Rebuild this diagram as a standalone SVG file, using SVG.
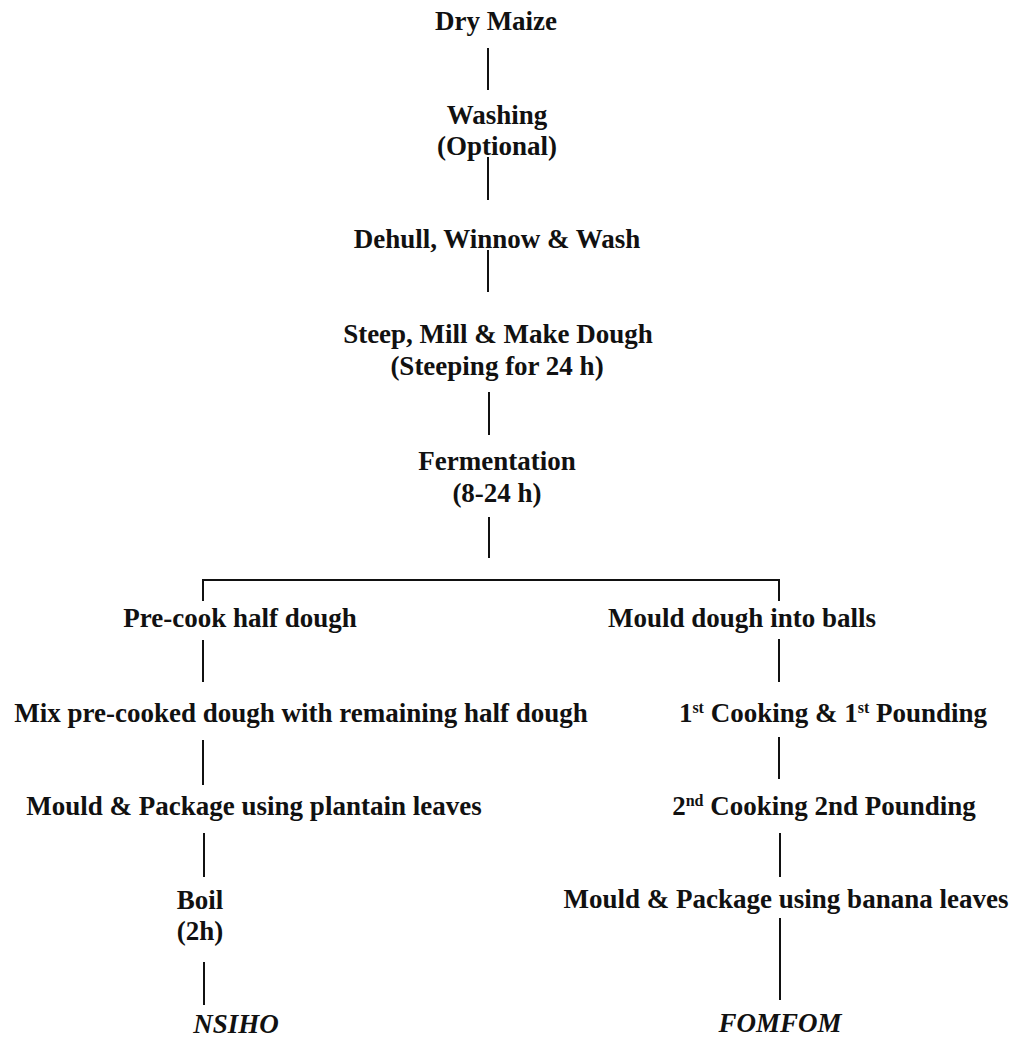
<svg xmlns="http://www.w3.org/2000/svg" width="1022" height="1037" viewBox="0 0 1022 1037">
<style>
text{font-family:"Liberation Serif","Times New Roman",serif;font-weight:bold;font-size:27px;fill:#111;text-anchor:middle}
.it{font-style:italic}
.sup{font-size:16px}
#connectors line{stroke:#111;stroke-width:2;fill:none}
</style>
<rect width="1022" height="1037" fill="#fff"/>
<g id="connectors">
<line x1="488" y1="48" x2="488" y2="90"/>
<line x1="488" y1="157" x2="488" y2="200"/>
<line x1="488" y1="250" x2="488" y2="292"/>
<line x1="489" y1="392" x2="489" y2="435"/>
<line x1="489" y1="517" x2="489" y2="558"/>
<line x1="202" y1="580" x2="780" y2="580"/>
<line x1="203" y1="579" x2="203" y2="601"/>
<line x1="779" y1="579" x2="779" y2="601"/>
<line x1="203" y1="640" x2="203" y2="682"/>
<line x1="203" y1="740" x2="203" y2="785"/>
<line x1="204" y1="833" x2="204" y2="877"/>
<line x1="204" y1="962" x2="204" y2="1005"/>
<line x1="779" y1="639" x2="779" y2="682"/>
<line x1="779" y1="737" x2="779" y2="779"/>
<line x1="780" y1="833" x2="780" y2="877"/>
<line x1="780" y1="918" x2="780" y2="1000"/>
</g>
<g id="n1"><text x="496" y="30">Dry Maize</text></g>
<g id="n2"><text x="497" y="124">Washing</text><text x="497" y="155">(Optional)</text></g>
<g id="n3"><text x="497" y="248">Dehull, Winnow &amp; Wash</text></g>
<g id="n4"><text x="498" y="343">Steep, Mill &amp; Make Dough</text><text x="497" y="375">(Steeping for 24 h)</text></g>
<g id="n5"><text x="497" y="470">Fermentation</text><text x="497" y="502">(8-24 h)</text></g>
<g id="n6"><text x="240" y="627">Pre-cook half dough</text></g>
<g id="n7"><text x="301" y="722">Mix pre-cooked dough with remaining half dough</text></g>
<g id="n8"><text x="254" y="815">Mould &amp; Package using plantain leaves</text></g>
<g id="n9"><text x="200" y="909">Boil</text><text x="200" y="940">(2h)</text></g>
<g id="n10"><text class="it" x="236" y="1033">NSIHO</text></g>
<g id="n11"><text x="742" y="627">Mould dough into balls</text></g>
<g id="n12"><text x="833" y="722">1<tspan class="sup" dy="-9">st</tspan><tspan dy="9"> Cooking &amp; 1</tspan><tspan class="sup" dy="-9">st</tspan><tspan dy="9"> Pounding</tspan></text></g>
<g id="n13"><text x="824" y="815">2<tspan class="sup" dy="-9">nd</tspan><tspan dy="9"> Cooking 2nd Pounding</tspan></text></g>
<g id="n14"><text x="786" y="908">Mould &amp; Package using banana leaves</text></g>
<g id="n15"><text class="it" x="780" y="1032">FOMFOM</text></g>
</svg>
